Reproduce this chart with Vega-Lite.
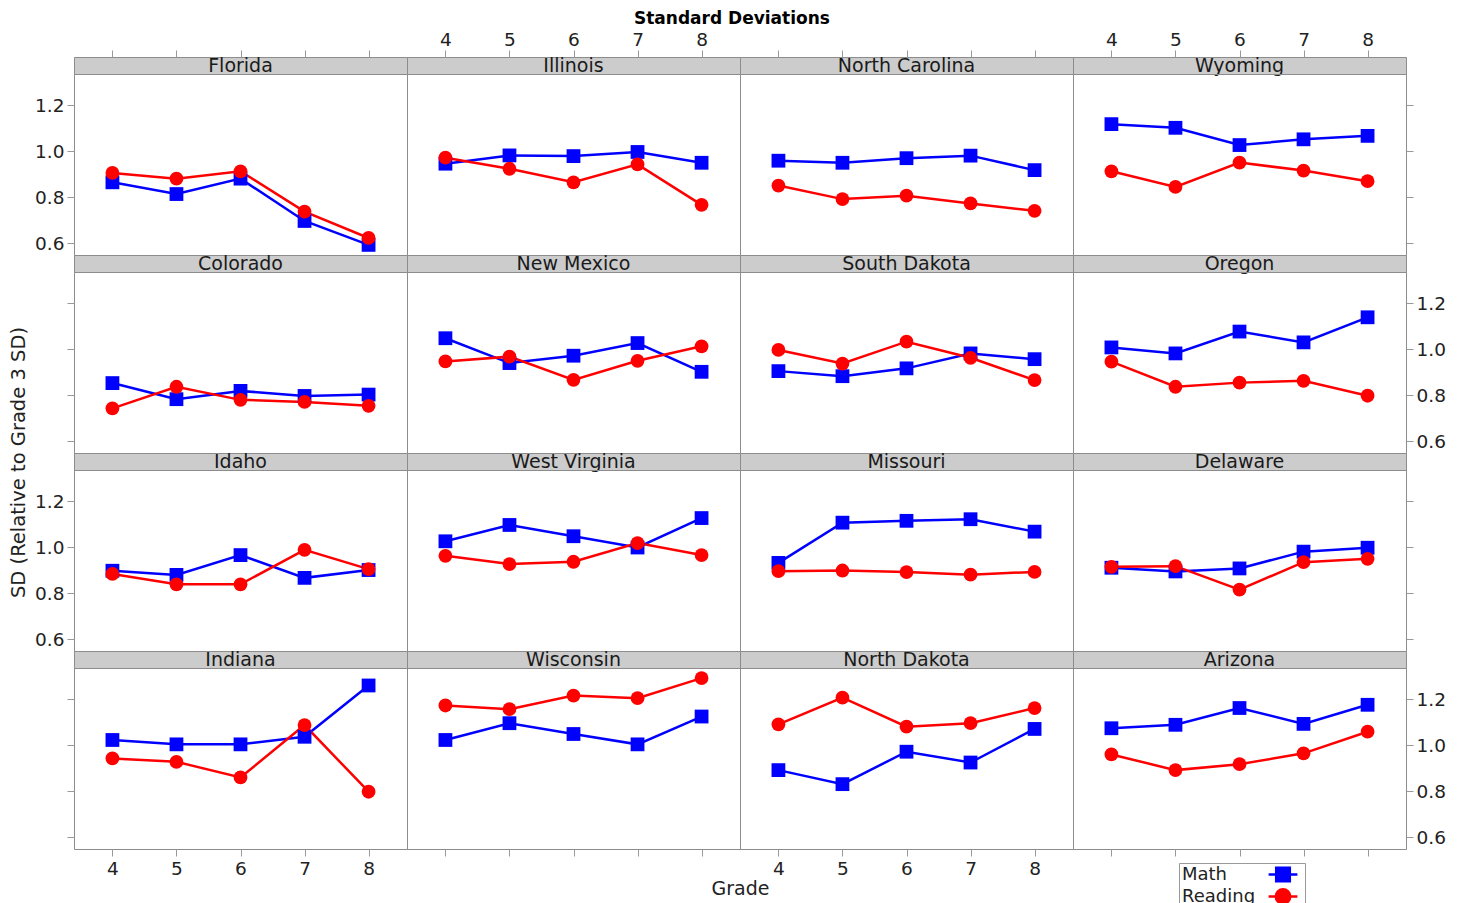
{
"$schema": "https://vega.github.io/schema/vega-lite/v6.json",
"padding": {"left": 8, "top": 9, "right": 5, "bottom": 0},
"title": {"text": "Standard Deviations", "font": "DejaVu Sans", "fontSize": 17, "fontWeight": "bold", "anchor": "middle", "color": "#000", "offset": 2, "dx": 5},
"datasets": {"d": [
{"state":"Florida","subject":"Math","grade":4,"sd":0.864},{"state":"Florida","subject":"Math","grade":5,"sd":0.813},{"state":"Florida","subject":"Math","grade":6,"sd":0.880},{"state":"Florida","subject":"Math","grade":7,"sd":0.696},{"state":"Florida","subject":"Math","grade":8,"sd":0.592},
{"state":"Florida","subject":"Reading","grade":4,"sd":0.905},{"state":"Florida","subject":"Reading","grade":5,"sd":0.880},{"state":"Florida","subject":"Reading","grade":6,"sd":0.912},{"state":"Florida","subject":"Reading","grade":7,"sd":0.737},{"state":"Florida","subject":"Reading","grade":8,"sd":0.622},
{"state":"Illinois","subject":"Math","grade":4,"sd":0.945},{"state":"Illinois","subject":"Math","grade":5,"sd":0.981},{"state":"Illinois","subject":"Math","grade":6,"sd":0.978},{"state":"Illinois","subject":"Math","grade":7,"sd":0.996},{"state":"Illinois","subject":"Math","grade":8,"sd":0.949},
{"state":"Illinois","subject":"Reading","grade":4,"sd":0.971},{"state":"Illinois","subject":"Reading","grade":5,"sd":0.923},{"state":"Illinois","subject":"Reading","grade":6,"sd":0.864},{"state":"Illinois","subject":"Reading","grade":7,"sd":0.942},{"state":"Illinois","subject":"Reading","grade":8,"sd":0.766},
{"state":"North Carolina","subject":"Math","grade":4,"sd":0.958},{"state":"North Carolina","subject":"Math","grade":5,"sd":0.949},{"state":"North Carolina","subject":"Math","grade":6,"sd":0.969},{"state":"North Carolina","subject":"Math","grade":7,"sd":0.980},{"state":"North Carolina","subject":"Math","grade":8,"sd":0.917},
{"state":"North Carolina","subject":"Reading","grade":4,"sd":0.850},{"state":"North Carolina","subject":"Reading","grade":5,"sd":0.791},{"state":"North Carolina","subject":"Reading","grade":6,"sd":0.806},{"state":"North Carolina","subject":"Reading","grade":7,"sd":0.772},{"state":"North Carolina","subject":"Reading","grade":8,"sd":0.740},
{"state":"Wyoming","subject":"Math","grade":4,"sd":1.117},{"state":"Wyoming","subject":"Math","grade":5,"sd":1.101},{"state":"Wyoming","subject":"Math","grade":6,"sd":1.026},{"state":"Wyoming","subject":"Math","grade":7,"sd":1.051},{"state":"Wyoming","subject":"Math","grade":8,"sd":1.066},
{"state":"Wyoming","subject":"Reading","grade":4,"sd":0.912},{"state":"Wyoming","subject":"Reading","grade":5,"sd":0.844},{"state":"Wyoming","subject":"Reading","grade":6,"sd":0.950},{"state":"Wyoming","subject":"Reading","grade":7,"sd":0.915},{"state":"Wyoming","subject":"Reading","grade":8,"sd":0.869},
{"state":"Colorado","subject":"Math","grade":4,"sd":0.852},{"state":"Colorado","subject":"Math","grade":5,"sd":0.782},{"state":"Colorado","subject":"Math","grade":6,"sd":0.818},{"state":"Colorado","subject":"Math","grade":7,"sd":0.796},{"state":"Colorado","subject":"Math","grade":8,"sd":0.802},
{"state":"Colorado","subject":"Reading","grade":4,"sd":0.742},{"state":"Colorado","subject":"Reading","grade":5,"sd":0.836},{"state":"Colorado","subject":"Reading","grade":6,"sd":0.779},{"state":"Colorado","subject":"Reading","grade":7,"sd":0.770},{"state":"Colorado","subject":"Reading","grade":8,"sd":0.753},
{"state":"New Mexico","subject":"Math","grade":4,"sd":1.047},{"state":"New Mexico","subject":"Math","grade":5,"sd":0.939},{"state":"New Mexico","subject":"Math","grade":6,"sd":0.971},{"state":"New Mexico","subject":"Math","grade":7,"sd":1.026},{"state":"New Mexico","subject":"Math","grade":8,"sd":0.901},
{"state":"New Mexico","subject":"Reading","grade":4,"sd":0.946},{"state":"New Mexico","subject":"Reading","grade":5,"sd":0.967},{"state":"New Mexico","subject":"Reading","grade":6,"sd":0.866},{"state":"New Mexico","subject":"Reading","grade":7,"sd":0.949},{"state":"New Mexico","subject":"Reading","grade":8,"sd":1.012},
{"state":"South Dakota","subject":"Math","grade":4,"sd":0.904},{"state":"South Dakota","subject":"Math","grade":5,"sd":0.882},{"state":"South Dakota","subject":"Math","grade":6,"sd":0.916},{"state":"South Dakota","subject":"Math","grade":7,"sd":0.981},{"state":"South Dakota","subject":"Math","grade":8,"sd":0.956},
{"state":"South Dakota","subject":"Reading","grade":4,"sd":0.996},{"state":"South Dakota","subject":"Reading","grade":5,"sd":0.937},{"state":"South Dakota","subject":"Reading","grade":6,"sd":1.032},{"state":"South Dakota","subject":"Reading","grade":7,"sd":0.962},{"state":"South Dakota","subject":"Reading","grade":8,"sd":0.865},
{"state":"Oregon","subject":"Math","grade":4,"sd":1.007},{"state":"Oregon","subject":"Math","grade":5,"sd":0.981},{"state":"Oregon","subject":"Math","grade":6,"sd":1.076},{"state":"Oregon","subject":"Math","grade":7,"sd":1.029},{"state":"Oregon","subject":"Math","grade":8,"sd":1.138},
{"state":"Oregon","subject":"Reading","grade":4,"sd":0.945},{"state":"Oregon","subject":"Reading","grade":5,"sd":0.836},{"state":"Oregon","subject":"Reading","grade":6,"sd":0.854},{"state":"Oregon","subject":"Reading","grade":7,"sd":0.862},{"state":"Oregon","subject":"Reading","grade":8,"sd":0.797},
{"state":"Idaho","subject":"Math","grade":4,"sd":0.897},{"state":"Idaho","subject":"Math","grade":5,"sd":0.879},{"state":"Idaho","subject":"Math","grade":6,"sd":0.965},{"state":"Idaho","subject":"Math","grade":7,"sd":0.866},{"state":"Idaho","subject":"Math","grade":8,"sd":0.900},
{"state":"Idaho","subject":"Reading","grade":4,"sd":0.883},{"state":"Idaho","subject":"Reading","grade":5,"sd":0.838},{"state":"Idaho","subject":"Reading","grade":6,"sd":0.838},{"state":"Idaho","subject":"Reading","grade":7,"sd":0.988},{"state":"Idaho","subject":"Reading","grade":8,"sd":0.904},
{"state":"West Virginia","subject":"Math","grade":4,"sd":1.025},{"state":"West Virginia","subject":"Math","grade":5,"sd":1.096},{"state":"West Virginia","subject":"Math","grade":6,"sd":1.047},{"state":"West Virginia","subject":"Math","grade":7,"sd":0.998},{"state":"West Virginia","subject":"Math","grade":8,"sd":1.126},
{"state":"West Virginia","subject":"Reading","grade":4,"sd":0.962},{"state":"West Virginia","subject":"Reading","grade":5,"sd":0.926},{"state":"West Virginia","subject":"Reading","grade":6,"sd":0.936},{"state":"West Virginia","subject":"Reading","grade":7,"sd":1.017},{"state":"West Virginia","subject":"Reading","grade":8,"sd":0.965},
{"state":"Missouri","subject":"Math","grade":4,"sd":0.931},{"state":"Missouri","subject":"Math","grade":5,"sd":1.106},{"state":"Missouri","subject":"Math","grade":6,"sd":1.114},{"state":"Missouri","subject":"Math","grade":7,"sd":1.121},{"state":"Missouri","subject":"Math","grade":8,"sd":1.067},
{"state":"Missouri","subject":"Reading","grade":4,"sd":0.895},{"state":"Missouri","subject":"Reading","grade":5,"sd":0.898},{"state":"Missouri","subject":"Reading","grade":6,"sd":0.891},{"state":"Missouri","subject":"Reading","grade":7,"sd":0.880},{"state":"Missouri","subject":"Reading","grade":8,"sd":0.892},
{"state":"Delaware","subject":"Math","grade":4,"sd":0.910},{"state":"Delaware","subject":"Math","grade":5,"sd":0.894},{"state":"Delaware","subject":"Math","grade":6,"sd":0.907},{"state":"Delaware","subject":"Math","grade":7,"sd":0.980},{"state":"Delaware","subject":"Math","grade":8,"sd":0.997},
{"state":"Delaware","subject":"Reading","grade":4,"sd":0.914},{"state":"Delaware","subject":"Reading","grade":5,"sd":0.917},{"state":"Delaware","subject":"Reading","grade":6,"sd":0.815},{"state":"Delaware","subject":"Reading","grade":7,"sd":0.934},{"state":"Delaware","subject":"Reading","grade":8,"sd":0.949},
{"state":"Indiana","subject":"Math","grade":4,"sd":1.022},{"state":"Indiana","subject":"Math","grade":5,"sd":1.003},{"state":"Indiana","subject":"Math","grade":6,"sd":1.003},{"state":"Indiana","subject":"Math","grade":7,"sd":1.036},{"state":"Indiana","subject":"Math","grade":8,"sd":1.259},
{"state":"Indiana","subject":"Reading","grade":4,"sd":0.942},{"state":"Indiana","subject":"Reading","grade":5,"sd":0.927},{"state":"Indiana","subject":"Reading","grade":6,"sd":0.859},{"state":"Indiana","subject":"Reading","grade":7,"sd":1.087},{"state":"Indiana","subject":"Reading","grade":8,"sd":0.797},
{"state":"Wisconsin","subject":"Math","grade":4,"sd":1.022},{"state":"Wisconsin","subject":"Math","grade":5,"sd":1.095},{"state":"Wisconsin","subject":"Math","grade":6,"sd":1.048},{"state":"Wisconsin","subject":"Math","grade":7,"sd":1.003},{"state":"Wisconsin","subject":"Math","grade":8,"sd":1.124},
{"state":"Wisconsin","subject":"Reading","grade":4,"sd":1.172},{"state":"Wisconsin","subject":"Reading","grade":5,"sd":1.156},{"state":"Wisconsin","subject":"Reading","grade":6,"sd":1.215},{"state":"Wisconsin","subject":"Reading","grade":7,"sd":1.204},{"state":"Wisconsin","subject":"Reading","grade":8,"sd":1.291},
{"state":"North Dakota","subject":"Math","grade":4,"sd":0.891},{"state":"North Dakota","subject":"Math","grade":5,"sd":0.830},{"state":"North Dakota","subject":"Math","grade":6,"sd":0.971},{"state":"North Dakota","subject":"Math","grade":7,"sd":0.924},{"state":"North Dakota","subject":"Math","grade":8,"sd":1.070},
{"state":"North Dakota","subject":"Reading","grade":4,"sd":1.090},{"state":"North Dakota","subject":"Reading","grade":5,"sd":1.206},{"state":"North Dakota","subject":"Reading","grade":6,"sd":1.080},{"state":"North Dakota","subject":"Reading","grade":7,"sd":1.095},{"state":"North Dakota","subject":"Reading","grade":8,"sd":1.161},
{"state":"Arizona","subject":"Math","grade":4,"sd":1.073},{"state":"Arizona","subject":"Math","grade":5,"sd":1.088},{"state":"Arizona","subject":"Math","grade":6,"sd":1.161},{"state":"Arizona","subject":"Math","grade":7,"sd":1.092},{"state":"Arizona","subject":"Math","grade":8,"sd":1.175},
{"state":"Arizona","subject":"Reading","grade":4,"sd":0.959},{"state":"Arizona","subject":"Reading","grade":5,"sd":0.891},{"state":"Arizona","subject":"Reading","grade":6,"sd":0.917},{"state":"Arizona","subject":"Reading","grade":7,"sd":0.964},{"state":"Arizona","subject":"Reading","grade":8,"sd":1.058}
]},
"data": {"name": "d"},
"columns": 4,
"spacing": 0,
"bounds": "flush",
"align": "each",
"concat": [
{"width":333,"height":17,"view":{"fill":"#cccccc","stroke":"#8c8c8c"},"transform":[{"filter":"datum.state==='Florida' && datum.grade===4 && datum.subject==='Math'"}],"mark":{"type":"text","font":"DejaVu Sans","fontSize":19,"color":"#1a1a1a","baseline":"alphabetic","dy":6.5},"encoding":{"x":{"datum":6,"type":"quantitative","scale":{"domain":[3.4,8.6],"nice":false,"zero":false},"axis":{"orient":"top","values":[4,5,6,7,8],"labels":false,"title":null}},"text":{"field":"state"}}},
{"width":333,"height":17,"view":{"fill":"#cccccc","stroke":"#8c8c8c"},"transform":[{"filter":"datum.state==='Illinois' && datum.grade===4 && datum.subject==='Math'"}],"mark":{"type":"text","font":"DejaVu Sans","fontSize":19,"color":"#1a1a1a","baseline":"alphabetic","dy":6.5},"encoding":{"x":{"datum":6,"type":"quantitative","scale":{"domain":[3.4,8.6],"nice":false,"zero":false},"axis":{"orient":"top","values":[4,5,6,7,8],"labelPadding":1,"title":null}},"text":{"field":"state"}}},
{"width":333,"height":17,"view":{"fill":"#cccccc","stroke":"#8c8c8c"},"transform":[{"filter":"datum.state==='North Carolina' && datum.grade===4 && datum.subject==='Math'"}],"mark":{"type":"text","font":"DejaVu Sans","fontSize":19,"color":"#1a1a1a","baseline":"alphabetic","dy":6.5},"encoding":{"x":{"datum":6,"type":"quantitative","scale":{"domain":[3.4,8.6],"nice":false,"zero":false},"axis":{"orient":"top","values":[4,5,6,7,8],"labels":false,"title":null}},"text":{"field":"state"}}},
{"width":333,"height":17,"view":{"fill":"#cccccc","stroke":"#8c8c8c"},"transform":[{"filter":"datum.state==='Wyoming' && datum.grade===4 && datum.subject==='Math'"}],"mark":{"type":"text","font":"DejaVu Sans","fontSize":19,"color":"#1a1a1a","baseline":"alphabetic","dy":6.5},"encoding":{"x":{"datum":6,"type":"quantitative","scale":{"domain":[3.4,8.6],"nice":false,"zero":false},"axis":{"orient":"top","values":[4,5,6,7,8],"labelPadding":1,"title":null}},"text":{"field":"state"}}},

{"width":333,"height":181,"transform":[{"filter":"datum.state==='Florida'"}],"encoding":{"x":{"field":"grade","type":"quantitative","scale":{"domain":[3.4,8.6],"nice":false,"zero":false},"axis":null},"y":{"field":"sd","type":"quantitative","scale":{"domain":[0.548,1.335],"nice":false,"zero":false},"axis":{"orient":"left","values":[0.6,0.8,1.0,1.2],"format":".1f","title":null}},"color":{"field":"subject","type":"nominal","scale":{"domain":["Math","Reading"],"range":["#0000ff","#ff0000"]},"legend":{"title":null,"encode":{"symbols":{"update":{"shape":{"signal":"datum.value==='Math' ? 'M-1.8,0H1.8M-0.85,-0.85H0.85V0.85H-0.85Z' : 'M-1.8,0H1.8M-0.9,0A0.9,0.9 0 1,1 0.9,0A0.9,0.9 0 1,1 -0.9,0Z'"},"size":{"value":256},"fill":{"signal":"datum.value==='Math' ? '#0000ff' : '#ff0000'"},"stroke":{"signal":"datum.value==='Math' ? '#0000ff' : '#ff0000'"},"strokeWidth":{"value":2.5},"opacity":{"value":1},"x":{"value":102}}}}}}},"layer":[{"mark":{"type":"line","strokeWidth":2.5}},{"transform":[{"filter":"datum.subject==='Math'"}],"mark":{"type":"point","shape":"square","filled":true,"opacity":1,"size":190}},{"transform":[{"filter":"datum.subject==='Reading'"}],"mark":{"type":"point","shape":"circle","filled":true,"opacity":1,"size":190}}]},
{"width":333,"height":181,"transform":[{"filter":"datum.state==='Illinois'"}],"encoding":{"x":{"field":"grade","type":"quantitative","scale":{"domain":[3.4,8.6],"nice":false,"zero":false},"axis":null},"y":{"field":"sd","type":"quantitative","scale":{"domain":[0.548,1.335],"nice":false,"zero":false},"axis":null},"color":{"field":"subject","type":"nominal","scale":{"domain":["Math","Reading"],"range":["#0000ff","#ff0000"]},"legend":{"title":null,"encode":{"symbols":{"update":{"shape":{"signal":"datum.value==='Math' ? 'M-1.8,0H1.8M-0.85,-0.85H0.85V0.85H-0.85Z' : 'M-1.8,0H1.8M-0.9,0A0.9,0.9 0 1,1 0.9,0A0.9,0.9 0 1,1 -0.9,0Z'"},"size":{"value":256},"fill":{"signal":"datum.value==='Math' ? '#0000ff' : '#ff0000'"},"stroke":{"signal":"datum.value==='Math' ? '#0000ff' : '#ff0000'"},"strokeWidth":{"value":2.5},"opacity":{"value":1},"x":{"value":102}}}}}}},"layer":[{"mark":{"type":"line","strokeWidth":2.5}},{"transform":[{"filter":"datum.subject==='Math'"}],"mark":{"type":"point","shape":"square","filled":true,"opacity":1,"size":190}},{"transform":[{"filter":"datum.subject==='Reading'"}],"mark":{"type":"point","shape":"circle","filled":true,"opacity":1,"size":190}}]},
{"width":333,"height":181,"transform":[{"filter":"datum.state==='North Carolina'"}],"encoding":{"x":{"field":"grade","type":"quantitative","scale":{"domain":[3.4,8.6],"nice":false,"zero":false},"axis":null},"y":{"field":"sd","type":"quantitative","scale":{"domain":[0.548,1.335],"nice":false,"zero":false},"axis":null},"color":{"field":"subject","type":"nominal","scale":{"domain":["Math","Reading"],"range":["#0000ff","#ff0000"]},"legend":{"title":null,"encode":{"symbols":{"update":{"shape":{"signal":"datum.value==='Math' ? 'M-1.8,0H1.8M-0.85,-0.85H0.85V0.85H-0.85Z' : 'M-1.8,0H1.8M-0.9,0A0.9,0.9 0 1,1 0.9,0A0.9,0.9 0 1,1 -0.9,0Z'"},"size":{"value":256},"fill":{"signal":"datum.value==='Math' ? '#0000ff' : '#ff0000'"},"stroke":{"signal":"datum.value==='Math' ? '#0000ff' : '#ff0000'"},"strokeWidth":{"value":2.5},"opacity":{"value":1},"x":{"value":102}}}}}}},"layer":[{"mark":{"type":"line","strokeWidth":2.5}},{"transform":[{"filter":"datum.subject==='Math'"}],"mark":{"type":"point","shape":"square","filled":true,"opacity":1,"size":190}},{"transform":[{"filter":"datum.subject==='Reading'"}],"mark":{"type":"point","shape":"circle","filled":true,"opacity":1,"size":190}}]},
{"width":333,"height":181,"transform":[{"filter":"datum.state==='Wyoming'"}],"encoding":{"x":{"field":"grade","type":"quantitative","scale":{"domain":[3.4,8.6],"nice":false,"zero":false},"axis":null},"y":{"field":"sd","type":"quantitative","scale":{"domain":[0.548,1.335],"nice":false,"zero":false},"axis":{"orient":"right","values":[0.6,0.8,1.0,1.2],"labels":false,"title":null}},"color":{"field":"subject","type":"nominal","scale":{"domain":["Math","Reading"],"range":["#0000ff","#ff0000"]},"legend":{"title":null,"encode":{"symbols":{"update":{"shape":{"signal":"datum.value==='Math' ? 'M-1.8,0H1.8M-0.85,-0.85H0.85V0.85H-0.85Z' : 'M-1.8,0H1.8M-0.9,0A0.9,0.9 0 1,1 0.9,0A0.9,0.9 0 1,1 -0.9,0Z'"},"size":{"value":256},"fill":{"signal":"datum.value==='Math' ? '#0000ff' : '#ff0000'"},"stroke":{"signal":"datum.value==='Math' ? '#0000ff' : '#ff0000'"},"strokeWidth":{"value":2.5},"opacity":{"value":1},"x":{"value":102}}}}}}},"layer":[{"mark":{"type":"line","strokeWidth":2.5}},{"transform":[{"filter":"datum.subject==='Math'"}],"mark":{"type":"point","shape":"square","filled":true,"opacity":1,"size":190}},{"transform":[{"filter":"datum.subject==='Reading'"}],"mark":{"type":"point","shape":"circle","filled":true,"opacity":1,"size":190}}]},

{"width":333,"height":17,"view":{"fill":"#cccccc","stroke":"#8c8c8c"},"transform":[{"filter":"datum.state==='Colorado' && datum.grade===4 && datum.subject==='Math'"}],"mark":{"type":"text","font":"DejaVu Sans","fontSize":19,"color":"#1a1a1a","baseline":"alphabetic","dy":6.5},"encoding":{"x":{"datum":6,"type":"quantitative","scale":{"domain":[3.4,8.6],"nice":false,"zero":false},"axis":null},"text":{"field":"state"}}},
{"width":333,"height":17,"view":{"fill":"#cccccc","stroke":"#8c8c8c"},"transform":[{"filter":"datum.state==='New Mexico' && datum.grade===4 && datum.subject==='Math'"}],"mark":{"type":"text","font":"DejaVu Sans","fontSize":19,"color":"#1a1a1a","baseline":"alphabetic","dy":6.5},"encoding":{"x":{"datum":6,"type":"quantitative","scale":{"domain":[3.4,8.6],"nice":false,"zero":false},"axis":null},"text":{"field":"state"}}},
{"width":333,"height":17,"view":{"fill":"#cccccc","stroke":"#8c8c8c"},"transform":[{"filter":"datum.state==='South Dakota' && datum.grade===4 && datum.subject==='Math'"}],"mark":{"type":"text","font":"DejaVu Sans","fontSize":19,"color":"#1a1a1a","baseline":"alphabetic","dy":6.5},"encoding":{"x":{"datum":6,"type":"quantitative","scale":{"domain":[3.4,8.6],"nice":false,"zero":false},"axis":null},"text":{"field":"state"}}},
{"width":333,"height":17,"view":{"fill":"#cccccc","stroke":"#8c8c8c"},"transform":[{"filter":"datum.state==='Oregon' && datum.grade===4 && datum.subject==='Math'"}],"mark":{"type":"text","font":"DejaVu Sans","fontSize":19,"color":"#1a1a1a","baseline":"alphabetic","dy":6.5},"encoding":{"x":{"datum":6,"type":"quantitative","scale":{"domain":[3.4,8.6],"nice":false,"zero":false},"axis":null},"text":{"field":"state"}}},

{"width":333,"height":181,"transform":[{"filter":"datum.state==='Colorado'"}],"encoding":{"x":{"field":"grade","type":"quantitative","scale":{"domain":[3.4,8.6],"nice":false,"zero":false},"axis":null},"y":{"field":"sd","type":"quantitative","scale":{"domain":[0.548,1.335],"nice":false,"zero":false},"axis":{"orient":"left","values":[0.6,0.8,1.0,1.2],"labels":false,"title":"SD (Relative to Grade 3 SD)","titleY":190,"titlePadding":38,"titleFontSize":19.5}},"color":{"field":"subject","type":"nominal","scale":{"domain":["Math","Reading"],"range":["#0000ff","#ff0000"]},"legend":{"title":null,"encode":{"symbols":{"update":{"shape":{"signal":"datum.value==='Math' ? 'M-1.8,0H1.8M-0.85,-0.85H0.85V0.85H-0.85Z' : 'M-1.8,0H1.8M-0.9,0A0.9,0.9 0 1,1 0.9,0A0.9,0.9 0 1,1 -0.9,0Z'"},"size":{"value":256},"fill":{"signal":"datum.value==='Math' ? '#0000ff' : '#ff0000'"},"stroke":{"signal":"datum.value==='Math' ? '#0000ff' : '#ff0000'"},"strokeWidth":{"value":2.5},"opacity":{"value":1},"x":{"value":102}}}}}}},"layer":[{"mark":{"type":"line","strokeWidth":2.5}},{"transform":[{"filter":"datum.subject==='Math'"}],"mark":{"type":"point","shape":"square","filled":true,"opacity":1,"size":190}},{"transform":[{"filter":"datum.subject==='Reading'"}],"mark":{"type":"point","shape":"circle","filled":true,"opacity":1,"size":190}}]},
{"width":333,"height":181,"transform":[{"filter":"datum.state==='New Mexico'"}],"encoding":{"x":{"field":"grade","type":"quantitative","scale":{"domain":[3.4,8.6],"nice":false,"zero":false},"axis":null},"y":{"field":"sd","type":"quantitative","scale":{"domain":[0.548,1.335],"nice":false,"zero":false},"axis":null},"color":{"field":"subject","type":"nominal","scale":{"domain":["Math","Reading"],"range":["#0000ff","#ff0000"]},"legend":{"title":null,"encode":{"symbols":{"update":{"shape":{"signal":"datum.value==='Math' ? 'M-1.8,0H1.8M-0.85,-0.85H0.85V0.85H-0.85Z' : 'M-1.8,0H1.8M-0.9,0A0.9,0.9 0 1,1 0.9,0A0.9,0.9 0 1,1 -0.9,0Z'"},"size":{"value":256},"fill":{"signal":"datum.value==='Math' ? '#0000ff' : '#ff0000'"},"stroke":{"signal":"datum.value==='Math' ? '#0000ff' : '#ff0000'"},"strokeWidth":{"value":2.5},"opacity":{"value":1},"x":{"value":102}}}}}}},"layer":[{"mark":{"type":"line","strokeWidth":2.5}},{"transform":[{"filter":"datum.subject==='Math'"}],"mark":{"type":"point","shape":"square","filled":true,"opacity":1,"size":190}},{"transform":[{"filter":"datum.subject==='Reading'"}],"mark":{"type":"point","shape":"circle","filled":true,"opacity":1,"size":190}}]},
{"width":333,"height":181,"transform":[{"filter":"datum.state==='South Dakota'"}],"encoding":{"x":{"field":"grade","type":"quantitative","scale":{"domain":[3.4,8.6],"nice":false,"zero":false},"axis":null},"y":{"field":"sd","type":"quantitative","scale":{"domain":[0.548,1.335],"nice":false,"zero":false},"axis":null},"color":{"field":"subject","type":"nominal","scale":{"domain":["Math","Reading"],"range":["#0000ff","#ff0000"]},"legend":{"title":null,"encode":{"symbols":{"update":{"shape":{"signal":"datum.value==='Math' ? 'M-1.8,0H1.8M-0.85,-0.85H0.85V0.85H-0.85Z' : 'M-1.8,0H1.8M-0.9,0A0.9,0.9 0 1,1 0.9,0A0.9,0.9 0 1,1 -0.9,0Z'"},"size":{"value":256},"fill":{"signal":"datum.value==='Math' ? '#0000ff' : '#ff0000'"},"stroke":{"signal":"datum.value==='Math' ? '#0000ff' : '#ff0000'"},"strokeWidth":{"value":2.5},"opacity":{"value":1},"x":{"value":102}}}}}}},"layer":[{"mark":{"type":"line","strokeWidth":2.5}},{"transform":[{"filter":"datum.subject==='Math'"}],"mark":{"type":"point","shape":"square","filled":true,"opacity":1,"size":190}},{"transform":[{"filter":"datum.subject==='Reading'"}],"mark":{"type":"point","shape":"circle","filled":true,"opacity":1,"size":190}}]},
{"width":333,"height":181,"transform":[{"filter":"datum.state==='Oregon'"}],"encoding":{"x":{"field":"grade","type":"quantitative","scale":{"domain":[3.4,8.6],"nice":false,"zero":false},"axis":null},"y":{"field":"sd","type":"quantitative","scale":{"domain":[0.548,1.335],"nice":false,"zero":false},"axis":{"orient":"right","values":[0.6,0.8,1.0,1.2],"format":".1f","title":null}},"color":{"field":"subject","type":"nominal","scale":{"domain":["Math","Reading"],"range":["#0000ff","#ff0000"]},"legend":{"title":null,"encode":{"symbols":{"update":{"shape":{"signal":"datum.value==='Math' ? 'M-1.8,0H1.8M-0.85,-0.85H0.85V0.85H-0.85Z' : 'M-1.8,0H1.8M-0.9,0A0.9,0.9 0 1,1 0.9,0A0.9,0.9 0 1,1 -0.9,0Z'"},"size":{"value":256},"fill":{"signal":"datum.value==='Math' ? '#0000ff' : '#ff0000'"},"stroke":{"signal":"datum.value==='Math' ? '#0000ff' : '#ff0000'"},"strokeWidth":{"value":2.5},"opacity":{"value":1},"x":{"value":102}}}}}}},"layer":[{"mark":{"type":"line","strokeWidth":2.5}},{"transform":[{"filter":"datum.subject==='Math'"}],"mark":{"type":"point","shape":"square","filled":true,"opacity":1,"size":190}},{"transform":[{"filter":"datum.subject==='Reading'"}],"mark":{"type":"point","shape":"circle","filled":true,"opacity":1,"size":190}}]},

{"width":333,"height":17,"view":{"fill":"#cccccc","stroke":"#8c8c8c"},"transform":[{"filter":"datum.state==='Idaho' && datum.grade===4 && datum.subject==='Math'"}],"mark":{"type":"text","font":"DejaVu Sans","fontSize":19,"color":"#1a1a1a","baseline":"alphabetic","dy":6.5},"encoding":{"x":{"datum":6,"type":"quantitative","scale":{"domain":[3.4,8.6],"nice":false,"zero":false},"axis":null},"text":{"field":"state"}}},
{"width":333,"height":17,"view":{"fill":"#cccccc","stroke":"#8c8c8c"},"transform":[{"filter":"datum.state==='West Virginia' && datum.grade===4 && datum.subject==='Math'"}],"mark":{"type":"text","font":"DejaVu Sans","fontSize":19,"color":"#1a1a1a","baseline":"alphabetic","dy":6.5},"encoding":{"x":{"datum":6,"type":"quantitative","scale":{"domain":[3.4,8.6],"nice":false,"zero":false},"axis":null},"text":{"field":"state"}}},
{"width":333,"height":17,"view":{"fill":"#cccccc","stroke":"#8c8c8c"},"transform":[{"filter":"datum.state==='Missouri' && datum.grade===4 && datum.subject==='Math'"}],"mark":{"type":"text","font":"DejaVu Sans","fontSize":19,"color":"#1a1a1a","baseline":"alphabetic","dy":6.5},"encoding":{"x":{"datum":6,"type":"quantitative","scale":{"domain":[3.4,8.6],"nice":false,"zero":false},"axis":null},"text":{"field":"state"}}},
{"width":333,"height":17,"view":{"fill":"#cccccc","stroke":"#8c8c8c"},"transform":[{"filter":"datum.state==='Delaware' && datum.grade===4 && datum.subject==='Math'"}],"mark":{"type":"text","font":"DejaVu Sans","fontSize":19,"color":"#1a1a1a","baseline":"alphabetic","dy":6.5},"encoding":{"x":{"datum":6,"type":"quantitative","scale":{"domain":[3.4,8.6],"nice":false,"zero":false},"axis":null},"text":{"field":"state"}}},

{"width":333,"height":181,"transform":[{"filter":"datum.state==='Idaho'"}],"encoding":{"x":{"field":"grade","type":"quantitative","scale":{"domain":[3.4,8.6],"nice":false,"zero":false},"axis":null},"y":{"field":"sd","type":"quantitative","scale":{"domain":[0.548,1.335],"nice":false,"zero":false},"axis":{"orient":"left","values":[0.6,0.8,1.0,1.2],"format":".1f","title":null}},"color":{"field":"subject","type":"nominal","scale":{"domain":["Math","Reading"],"range":["#0000ff","#ff0000"]},"legend":{"title":null,"encode":{"symbols":{"update":{"shape":{"signal":"datum.value==='Math' ? 'M-1.8,0H1.8M-0.85,-0.85H0.85V0.85H-0.85Z' : 'M-1.8,0H1.8M-0.9,0A0.9,0.9 0 1,1 0.9,0A0.9,0.9 0 1,1 -0.9,0Z'"},"size":{"value":256},"fill":{"signal":"datum.value==='Math' ? '#0000ff' : '#ff0000'"},"stroke":{"signal":"datum.value==='Math' ? '#0000ff' : '#ff0000'"},"strokeWidth":{"value":2.5},"opacity":{"value":1},"x":{"value":102}}}}}}},"layer":[{"mark":{"type":"line","strokeWidth":2.5}},{"transform":[{"filter":"datum.subject==='Math'"}],"mark":{"type":"point","shape":"square","filled":true,"opacity":1,"size":190}},{"transform":[{"filter":"datum.subject==='Reading'"}],"mark":{"type":"point","shape":"circle","filled":true,"opacity":1,"size":190}}]},
{"width":333,"height":181,"transform":[{"filter":"datum.state==='West Virginia'"}],"encoding":{"x":{"field":"grade","type":"quantitative","scale":{"domain":[3.4,8.6],"nice":false,"zero":false},"axis":null},"y":{"field":"sd","type":"quantitative","scale":{"domain":[0.548,1.335],"nice":false,"zero":false},"axis":null},"color":{"field":"subject","type":"nominal","scale":{"domain":["Math","Reading"],"range":["#0000ff","#ff0000"]},"legend":{"title":null,"encode":{"symbols":{"update":{"shape":{"signal":"datum.value==='Math' ? 'M-1.8,0H1.8M-0.85,-0.85H0.85V0.85H-0.85Z' : 'M-1.8,0H1.8M-0.9,0A0.9,0.9 0 1,1 0.9,0A0.9,0.9 0 1,1 -0.9,0Z'"},"size":{"value":256},"fill":{"signal":"datum.value==='Math' ? '#0000ff' : '#ff0000'"},"stroke":{"signal":"datum.value==='Math' ? '#0000ff' : '#ff0000'"},"strokeWidth":{"value":2.5},"opacity":{"value":1},"x":{"value":102}}}}}}},"layer":[{"mark":{"type":"line","strokeWidth":2.5}},{"transform":[{"filter":"datum.subject==='Math'"}],"mark":{"type":"point","shape":"square","filled":true,"opacity":1,"size":190}},{"transform":[{"filter":"datum.subject==='Reading'"}],"mark":{"type":"point","shape":"circle","filled":true,"opacity":1,"size":190}}]},
{"width":333,"height":181,"transform":[{"filter":"datum.state==='Missouri'"}],"encoding":{"x":{"field":"grade","type":"quantitative","scale":{"domain":[3.4,8.6],"nice":false,"zero":false},"axis":null},"y":{"field":"sd","type":"quantitative","scale":{"domain":[0.548,1.335],"nice":false,"zero":false},"axis":null},"color":{"field":"subject","type":"nominal","scale":{"domain":["Math","Reading"],"range":["#0000ff","#ff0000"]},"legend":{"title":null,"encode":{"symbols":{"update":{"shape":{"signal":"datum.value==='Math' ? 'M-1.8,0H1.8M-0.85,-0.85H0.85V0.85H-0.85Z' : 'M-1.8,0H1.8M-0.9,0A0.9,0.9 0 1,1 0.9,0A0.9,0.9 0 1,1 -0.9,0Z'"},"size":{"value":256},"fill":{"signal":"datum.value==='Math' ? '#0000ff' : '#ff0000'"},"stroke":{"signal":"datum.value==='Math' ? '#0000ff' : '#ff0000'"},"strokeWidth":{"value":2.5},"opacity":{"value":1},"x":{"value":102}}}}}}},"layer":[{"mark":{"type":"line","strokeWidth":2.5}},{"transform":[{"filter":"datum.subject==='Math'"}],"mark":{"type":"point","shape":"square","filled":true,"opacity":1,"size":190}},{"transform":[{"filter":"datum.subject==='Reading'"}],"mark":{"type":"point","shape":"circle","filled":true,"opacity":1,"size":190}}]},
{"width":333,"height":181,"transform":[{"filter":"datum.state==='Delaware'"}],"encoding":{"x":{"field":"grade","type":"quantitative","scale":{"domain":[3.4,8.6],"nice":false,"zero":false},"axis":null},"y":{"field":"sd","type":"quantitative","scale":{"domain":[0.548,1.335],"nice":false,"zero":false},"axis":{"orient":"right","values":[0.6,0.8,1.0,1.2],"labels":false,"title":null}},"color":{"field":"subject","type":"nominal","scale":{"domain":["Math","Reading"],"range":["#0000ff","#ff0000"]},"legend":{"title":null,"encode":{"symbols":{"update":{"shape":{"signal":"datum.value==='Math' ? 'M-1.8,0H1.8M-0.85,-0.85H0.85V0.85H-0.85Z' : 'M-1.8,0H1.8M-0.9,0A0.9,0.9 0 1,1 0.9,0A0.9,0.9 0 1,1 -0.9,0Z'"},"size":{"value":256},"fill":{"signal":"datum.value==='Math' ? '#0000ff' : '#ff0000'"},"stroke":{"signal":"datum.value==='Math' ? '#0000ff' : '#ff0000'"},"strokeWidth":{"value":2.5},"opacity":{"value":1},"x":{"value":102}}}}}}},"layer":[{"mark":{"type":"line","strokeWidth":2.5}},{"transform":[{"filter":"datum.subject==='Math'"}],"mark":{"type":"point","shape":"square","filled":true,"opacity":1,"size":190}},{"transform":[{"filter":"datum.subject==='Reading'"}],"mark":{"type":"point","shape":"circle","filled":true,"opacity":1,"size":190}}]},

{"width":333,"height":17,"view":{"fill":"#cccccc","stroke":"#8c8c8c"},"transform":[{"filter":"datum.state==='Indiana' && datum.grade===4 && datum.subject==='Math'"}],"mark":{"type":"text","font":"DejaVu Sans","fontSize":19,"color":"#1a1a1a","baseline":"alphabetic","dy":6.5},"encoding":{"x":{"datum":6,"type":"quantitative","scale":{"domain":[3.4,8.6],"nice":false,"zero":false},"axis":null},"text":{"field":"state"}}},
{"width":333,"height":17,"view":{"fill":"#cccccc","stroke":"#8c8c8c"},"transform":[{"filter":"datum.state==='Wisconsin' && datum.grade===4 && datum.subject==='Math'"}],"mark":{"type":"text","font":"DejaVu Sans","fontSize":19,"color":"#1a1a1a","baseline":"alphabetic","dy":6.5},"encoding":{"x":{"datum":6,"type":"quantitative","scale":{"domain":[3.4,8.6],"nice":false,"zero":false},"axis":null},"text":{"field":"state"}}},
{"width":333,"height":17,"view":{"fill":"#cccccc","stroke":"#8c8c8c"},"transform":[{"filter":"datum.state==='North Dakota' && datum.grade===4 && datum.subject==='Math'"}],"mark":{"type":"text","font":"DejaVu Sans","fontSize":19,"color":"#1a1a1a","baseline":"alphabetic","dy":6.5},"encoding":{"x":{"datum":6,"type":"quantitative","scale":{"domain":[3.4,8.6],"nice":false,"zero":false},"axis":null},"text":{"field":"state"}}},
{"width":333,"height":17,"view":{"fill":"#cccccc","stroke":"#8c8c8c"},"transform":[{"filter":"datum.state==='Arizona' && datum.grade===4 && datum.subject==='Math'"}],"mark":{"type":"text","font":"DejaVu Sans","fontSize":19,"color":"#1a1a1a","baseline":"alphabetic","dy":6.5},"encoding":{"x":{"datum":6,"type":"quantitative","scale":{"domain":[3.4,8.6],"nice":false,"zero":false},"axis":null},"text":{"field":"state"}}},

{"width":333,"height":181,"transform":[{"filter":"datum.state==='Indiana'"}],"encoding":{"x":{"field":"grade","type":"quantitative","scale":{"domain":[3.4,8.6],"nice":false,"zero":false},"axis":{"orient":"bottom","values":[4,5,6,7,8],"title":null}},"y":{"field":"sd","type":"quantitative","scale":{"domain":[0.548,1.335],"nice":false,"zero":false},"axis":{"orient":"left","values":[0.6,0.8,1.0,1.2],"labels":false,"title":null}},"color":{"field":"subject","type":"nominal","scale":{"domain":["Math","Reading"],"range":["#0000ff","#ff0000"]},"legend":{"title":null,"encode":{"symbols":{"update":{"shape":{"signal":"datum.value==='Math' ? 'M-1.8,0H1.8M-0.85,-0.85H0.85V0.85H-0.85Z' : 'M-1.8,0H1.8M-0.9,0A0.9,0.9 0 1,1 0.9,0A0.9,0.9 0 1,1 -0.9,0Z'"},"size":{"value":256},"fill":{"signal":"datum.value==='Math' ? '#0000ff' : '#ff0000'"},"stroke":{"signal":"datum.value==='Math' ? '#0000ff' : '#ff0000'"},"strokeWidth":{"value":2.5},"opacity":{"value":1},"x":{"value":102}}}}}}},"layer":[{"mark":{"type":"line","strokeWidth":2.5}},{"transform":[{"filter":"datum.subject==='Math'"}],"mark":{"type":"point","shape":"square","filled":true,"opacity":1,"size":190}},{"transform":[{"filter":"datum.subject==='Reading'"}],"mark":{"type":"point","shape":"circle","filled":true,"opacity":1,"size":190}}]},
{"width":333,"height":181,"transform":[{"filter":"datum.state==='Wisconsin'"}],"encoding":{"x":{"field":"grade","type":"quantitative","scale":{"domain":[3.4,8.6],"nice":false,"zero":false},"axis":{"orient":"bottom","values":[4,5,6,7,8],"labels":false,"title":"Grade","titleX":333,"titlePadding":23,"titleFontSize":19}},"y":{"field":"sd","type":"quantitative","scale":{"domain":[0.548,1.335],"nice":false,"zero":false},"axis":null},"color":{"field":"subject","type":"nominal","scale":{"domain":["Math","Reading"],"range":["#0000ff","#ff0000"]},"legend":{"title":null,"encode":{"symbols":{"update":{"shape":{"signal":"datum.value==='Math' ? 'M-1.8,0H1.8M-0.85,-0.85H0.85V0.85H-0.85Z' : 'M-1.8,0H1.8M-0.9,0A0.9,0.9 0 1,1 0.9,0A0.9,0.9 0 1,1 -0.9,0Z'"},"size":{"value":256},"fill":{"signal":"datum.value==='Math' ? '#0000ff' : '#ff0000'"},"stroke":{"signal":"datum.value==='Math' ? '#0000ff' : '#ff0000'"},"strokeWidth":{"value":2.5},"opacity":{"value":1},"x":{"value":102}}}}}}},"layer":[{"mark":{"type":"line","strokeWidth":2.5}},{"transform":[{"filter":"datum.subject==='Math'"}],"mark":{"type":"point","shape":"square","filled":true,"opacity":1,"size":190}},{"transform":[{"filter":"datum.subject==='Reading'"}],"mark":{"type":"point","shape":"circle","filled":true,"opacity":1,"size":190}}]},
{"width":333,"height":181,"transform":[{"filter":"datum.state==='North Dakota'"}],"encoding":{"x":{"field":"grade","type":"quantitative","scale":{"domain":[3.4,8.6],"nice":false,"zero":false},"axis":{"orient":"bottom","values":[4,5,6,7,8],"title":null}},"y":{"field":"sd","type":"quantitative","scale":{"domain":[0.548,1.335],"nice":false,"zero":false},"axis":null},"color":{"field":"subject","type":"nominal","scale":{"domain":["Math","Reading"],"range":["#0000ff","#ff0000"]},"legend":{"title":null,"encode":{"symbols":{"update":{"shape":{"signal":"datum.value==='Math' ? 'M-1.8,0H1.8M-0.85,-0.85H0.85V0.85H-0.85Z' : 'M-1.8,0H1.8M-0.9,0A0.9,0.9 0 1,1 0.9,0A0.9,0.9 0 1,1 -0.9,0Z'"},"size":{"value":256},"fill":{"signal":"datum.value==='Math' ? '#0000ff' : '#ff0000'"},"stroke":{"signal":"datum.value==='Math' ? '#0000ff' : '#ff0000'"},"strokeWidth":{"value":2.5},"opacity":{"value":1},"x":{"value":102}}}}}}},"layer":[{"mark":{"type":"line","strokeWidth":2.5}},{"transform":[{"filter":"datum.subject==='Math'"}],"mark":{"type":"point","shape":"square","filled":true,"opacity":1,"size":190}},{"transform":[{"filter":"datum.subject==='Reading'"}],"mark":{"type":"point","shape":"circle","filled":true,"opacity":1,"size":190}}]},
{"width":333,"height":181,"transform":[{"filter":"datum.state==='Arizona'"}],"encoding":{"x":{"field":"grade","type":"quantitative","scale":{"domain":[3.4,8.6],"nice":false,"zero":false},"axis":{"orient":"bottom","values":[4,5,6,7,8],"labels":false,"title":null}},"y":{"field":"sd","type":"quantitative","scale":{"domain":[0.548,1.335],"nice":false,"zero":false},"axis":{"orient":"right","values":[0.6,0.8,1.0,1.2],"format":".1f","title":null}},"color":{"field":"subject","type":"nominal","scale":{"domain":["Math","Reading"],"range":["#0000ff","#ff0000"]},"legend":{"title":null,"encode":{"symbols":{"update":{"shape":{"signal":"datum.value==='Math' ? 'M-1.8,0H1.8M-0.85,-0.85H0.85V0.85H-0.85Z' : 'M-1.8,0H1.8M-0.9,0A0.9,0.9 0 1,1 0.9,0A0.9,0.9 0 1,1 -0.9,0Z'"},"size":{"value":256},"fill":{"signal":"datum.value==='Math' ? '#0000ff' : '#ff0000'"},"stroke":{"signal":"datum.value==='Math' ? '#0000ff' : '#ff0000'"},"strokeWidth":{"value":2.5},"opacity":{"value":1},"x":{"value":102}}}}}}},"layer":[{"mark":{"type":"line","strokeWidth":2.5}},{"transform":[{"filter":"datum.subject==='Math'"}],"mark":{"type":"point","shape":"square","filled":true,"opacity":1,"size":190}},{"transform":[{"filter":"datum.subject==='Reading'"}],"mark":{"type":"point","shape":"circle","filled":true,"opacity":1,"size":190}}]}
],
"config": {
  "view": {"stroke": "#8c8c8c", "strokeWidth": 1},
  "axis": {"labelFont": "DejaVu Sans", "labelFontSize": 18.5, "labelColor": "#222222", "tickColor": "#999999", "tickSize": 7, "tickWidth": 1, "domain": false, "grid": false, "labelPadding": 3, "titleFont": "DejaVu Sans", "titleFontSize": 18, "titleFontWeight": "normal", "titleColor": "#222222"},
  "legend": {"orient": "none", "legendX": 1105, "legendY": 806, "labelAlign": "left", "labelOffset": -18, "labelFont": "DejaVu Sans", "labelFontSize": 18, "labelColor": "#222222", "strokeColor": "#999999", "padding": 2, "rowPadding": -9, "symbolSize": 196}
}
}
